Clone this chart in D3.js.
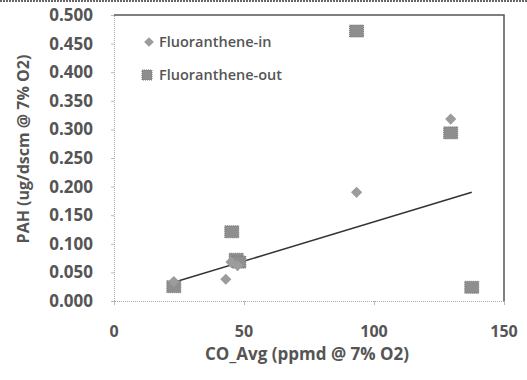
<!DOCTYPE html>
<html>
	<head>
		<title>PAH vs CO scatter</title>
		<script src="https://d3js.org/d3.v7.min.js"></script>
		<style>
			body { margin: 0; background: #fff; }
			text {
			  font-family: "Open Sans", "DejaVu Sans", sans-serif;
			  fill: #555;
			  font-weight: bold;
			}
		</style>
	</head>
	<body>
		<svg width="527" height="380"></svg>

		<script type="text/javascript">
			// Fluoranthene-in
			var inX = [23, 43, 45, 47.5, 93.3, 129.5];
			var inY = [0.034, 0.038, 0.068, 0.062, 0.190, 0.318];
			// Fluoranthene-out
			var outX = [23, 45.3, 47, 48, 93.3, 129.5, 137.6];
			var outY = [0.025, 0.121, 0.073, 0.068, 0.472, 0.294, 0.024];
			// linear trendline end points
			var trendX = [24, 137.6];
			var trendY = [0.034, 0.190];

			var xTicks = [0, 50, 100, 150];
			var yTicks = [0, 0.05, 0.1, 0.15, 0.2, 0.25, 0.3, 0.35, 0.4, 0.45, 0.5];

			var svg = d3.select('svg');

			var x = d3.scaleLinear().domain([0, 150]).range([114, 504]);
			var y = d3.scaleLinear().domain([0, 0.5]).range([301, 15]);

			// scan edge at top of the picture
			svg.append('line')
			  .attr('x1', 0).attr('x2', 527).attr('y1', 1).attr('y2', 1)
			  .attr('stroke', '#666').attr('stroke-width', 2)
			  .attr('stroke-dasharray', '2,1');

			// left and bottom axes: dotted, light
			var yAxis = d3.axisLeft(y).tickValues(yTicks).tickSize(3).tickFormat('');
			var gy = svg.append('g').attr('transform', 'translate(' + x(0) + ',0)').call(yAxis);
			var xAxis = d3.axisBottom(x).tickValues(xTicks).tickSize(4).tickFormat('');
			var gx = svg.append('g').attr('transform', 'translate(0,' + y(0) + ')').call(xAxis);
			[gx, gy].forEach(function(g) {
			  g.select('.domain').attr('stroke', '#aaa').attr('stroke-dasharray', '1,1');
			  g.selectAll('.tick line').attr('stroke', '#bbb');
			});

			// top and right frame: solid dark
			svg.append('path')
			  .attr('d', 'M' + x(0) + ',' + y(0.5) + 'H' + x(150) + 'V' + y(0))
			  .attr('fill', 'none').attr('stroke', '#555').attr('stroke-width', 1.5);

			// tick labels
			svg.selectAll('.ylab').data(yTicks).enter().append('text')
			  .attr('x', 93).attr('y', function(d) { return y(d) + 6; })
			  .attr('text-anchor', 'end').style('font-size', '17px')
			  .text(function(d) { return d3.format('.3f')(d); });
			svg.selectAll('.xlab').data(xTicks).enter().append('text')
			  .attr('x', function(d) { return x(d); }).attr('y', 337)
			  .attr('text-anchor', 'middle').style('font-size', '16px')
			  .text(function(d) { return d; });

			// axis titles
			svg.append('text')
			  .attr('x', 307).attr('y', 360)
			  .attr('text-anchor', 'middle').style('font-size', '17px')
			  .text('CO_Avg (ppmd @ 7% O2)');
			svg.append('text')
			  .attr('transform', 'translate(29,149) rotate(-90)')
			  .attr('text-anchor', 'middle').style('font-size', '16px')
			  .text('PAH (ug/dscm @ 7% O2)');

			var diamond = d3.symbol().type(d3.symbolDiamond2).size(80);

			// trendline
			svg.append('line')
			  .attr('x1', x(trendX[0])).attr('y1', y(trendY[0]))
			  .attr('x2', x(trendX[1])).attr('y2', y(trendY[1]))
			  .attr('stroke', '#333').attr('stroke-width', 1.5);

			// out series (squares)
			svg.selectAll('.out').data(outX).enter().append('rect')
			  .attr('x', function(d) { return x(d) - 7; })
			  .attr('y', function(d, i) { return y(outY[i]) - 6; })
			  .attr('width', 14).attr('height', 12)
			  .attr('fill', '#8e8e8e').attr('stroke', '#777')
			  .attr('stroke-dasharray', '1,1');

			// in series (diamonds)
			svg.selectAll('.in').data(inX).enter().append('path')
			  .attr('d', diamond)
			  .attr('transform', function(d, i) { return 'translate(' + x(d) + ',' + y(inY[i]) + ')'; })
			  .attr('fill', '#9c9c9c');

			// legend
			svg.append('path').attr('d', diamond.size(60))
			  .attr('transform', 'translate(149,42)').attr('fill', '#9c9c9c');
			svg.append('text').attr('x', 159).attr('y', 47)
			  .style('font-size', '14.5px').style('font-weight', 600).text('Fluoranthene-in');
			svg.append('rect').attr('x', 142).attr('y', 70).attr('width', 10).attr('height', 10)
			  .attr('fill', '#8e8e8e').attr('stroke', '#777').attr('stroke-dasharray', '1,1');
			svg.append('text').attr('x', 159).attr('y', 80)
			  .style('font-size', '14.5px').style('font-weight', 600).text('Fluoranthene-out');
		</script>
	</body>
</html>
